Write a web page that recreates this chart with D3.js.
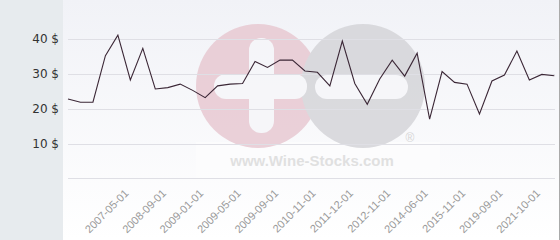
<!DOCTYPE html>
<html>
  <head>
    <meta charset="utf-8">
    <title>Price history</title>
    <script src="https://d3js.org/d3.v7.min.js"></script>
    <style>
      body { margin: 0; background: #fff; }
      svg { display: block; }
      .ylab { font-family: "DejaVu Sans", sans-serif; font-size: 12px; fill: #333; }
      .xlab { font-family: "Liberation Sans", Arial, sans-serif; font-size: 11px; fill: #999; }
    </style>
  </head>
  <body>
    <div id="chart"></div>
    <script>
      // price per bottle, one value per category (40 points)
      var prices = [22.8, 21.9, 21.9, 35.3, 41.2, 28.3, 37.4, 25.7, 26.1, 27.1,
                    25.3, 23.2, 26.6, 27.1, 27.3, 33.6, 31.9, 34.0, 34.0, 30.9,
                    30.5, 26.6, 39.5, 27.3, 21.3, 28.6, 34.0, 29.4, 36.0, 17.0,
                    30.7, 27.6, 27.1, 18.5, 28.0, 29.7, 36.6, 28.3, 29.9, 29.5];

      // labelled categories (index into prices) and their labels
      var tickIndex = [5, 8, 11, 14, 17, 20, 23, 26, 29, 32, 35, 38];
      var tickLabels = ["2007-05-01", "2008-09-01", "2009-01-01", "2009-05-01",
                        "2009-09-01", "2010-11-01", "2011-12-01", "2012-11-01",
                        "2014-06-01", "2015-11-01", "2019-09-01", "2021-10-01"];

      var yTicks = [10, 20, 30, 40];

      var width = 560, height = 240;

      var svg = d3.select("#chart").append("svg")
        .attr("width", width)
        .attr("height", height);

      var defs = svg.append("defs");
      var grad = defs.append("linearGradient")
        .attr("id", "bg").attr("x1", 0).attr("y1", 0).attr("x2", 0).attr("y2", 1);
      grad.append("stop").attr("offset", "0%").attr("stop-color", "#f1f2f7");
      grad.append("stop").attr("offset", "100%").attr("stop-color", "#ffffff");

      // plot background and left panel
      svg.append("rect").attr("x", 63).attr("y", 0).attr("width", 496).attr("height", height)
        .attr("fill", "url(#bg)");
      svg.append("rect").attr("x", 0).attr("y", 0).attr("width", 63).attr("height", height)
        .attr("fill", "#e7ebee");
      svg.append("line").attr("x1", 559.5).attr("x2", 559.5).attr("y1", 0).attr("y2", height)
        .attr("stroke", "#aaa");

      var x = d3.scalePoint()
        .domain(d3.range(prices.length))
        .range([68, 554.3]);

      var y = d3.scaleLinear()
        .domain([0, 40])
        .range([178.3, 39.3]);

      // watermark
      var wm = svg.append("g").attr("opacity", 0.85);
      wm.append("rect").attr("x", 196).attr("y", 142).attr("width", 244).attr("height", 36)
        .attr("fill", "#fff").attr("opacity", 0.6);
      wm.append("circle").attr("cx", 258).attr("cy", 86).attr("r", 62).attr("fill", "#e8c9d2");
      wm.append("circle").attr("cx", 363).attr("cy", 86).attr("r", 62).attr("fill", "#d5d5d9");
      wm.append("rect").attr("x", 249).attr("y", 38).attr("width", 25).attr("height", 95)
        .attr("rx", 12).attr("fill", "#f6f6f9");
      wm.append("rect").attr("x", 214).attr("y", 74).attr("width", 93).attr("height", 25)
        .attr("rx", 12).attr("fill", "#f6f6f9");
      wm.append("rect").attr("x", 315).attr("y", 75).attr("width", 93).attr("height", 24)
        .attr("rx", 12).attr("fill", "#f6f6f9");
      wm.append("text").attr("x", 312).attr("y", 166).attr("text-anchor", "middle")
        .attr("font-family", "Liberation Sans, Arial, sans-serif").attr("font-weight", "bold")
        .attr("font-size", 15).attr("fill", "#dcdcdc").text("www.Wine-Stocks.com");
      wm.append("text").attr("x", 410).attr("y", 142).attr("text-anchor", "middle")
        .attr("font-family", "Liberation Sans, Arial, sans-serif")
        .attr("font-size", 12).attr("fill", "#d0d0d0").text("\u00ae");

      // gridlines
      svg.append("g").selectAll("line")
        .data([0].concat(yTicks))
        .join("line")
        .attr("x1", 68).attr("x2", 555)
        .attr("y1", d => Math.round(y(d)) + 0.5)
        .attr("y2", d => Math.round(y(d)) + 0.5)
        .attr("stroke", "#dfdfe5");

      // y labels
      svg.append("g").selectAll("text")
        .data(yTicks)
        .join("text")
        .attr("class", "ylab")
        .attr("x", 59)
        .attr("y", d => y(d) + 4)
        .attr("text-anchor", "end")
        .text(d => d + " $");

      // x labels
      svg.append("g").selectAll("text")
        .data(tickIndex)
        .join("text")
        .attr("class", "xlab")
        .attr("text-anchor", "end")
        .attr("transform", d => "translate(" + (x(d) - 1) + ",194) rotate(-45)")
        .text((d, i) => tickLabels[i]);

      // price line
      var line = d3.line()
        .x((d, i) => x(i))
        .y(d => y(d));

      svg.append("path")
        .datum(prices)
        .attr("d", line)
        .attr("fill", "none")
        .attr("stroke", "#3b2736")
        .attr("stroke-width", 1.1);
    </script>
  </body>
</html>
